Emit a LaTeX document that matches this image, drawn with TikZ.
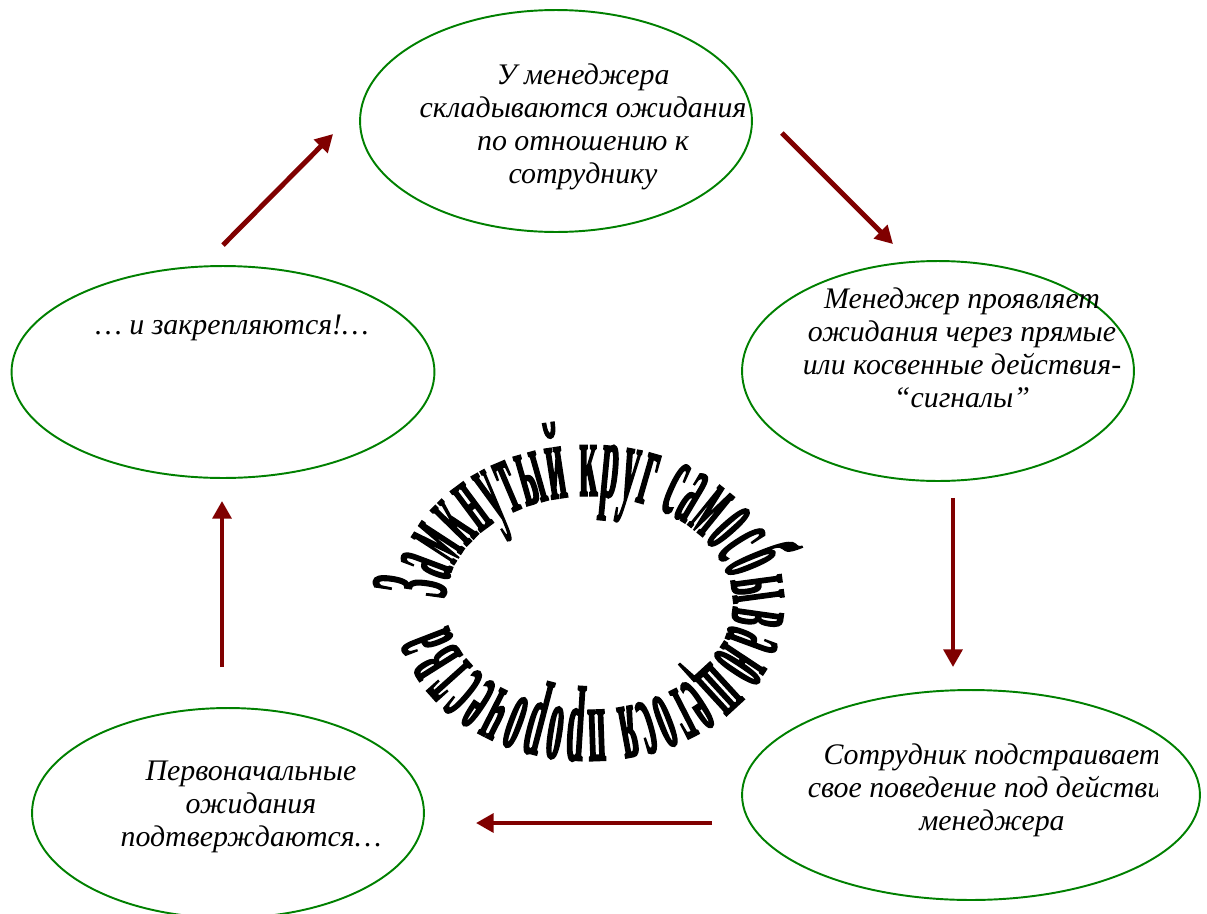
\documentclass[tikz,border=0pt]{standalone}
\usepackage{fontspec}
\setmainfont{Liberation Serif}
\newfontfamily\ringfont[FakeStretch=0.28, FakeBold=1.2]{Liberation Serif}
\usepackage{xcolor}
\usepackage{tikz}
\usetikzlibrary{arrows.meta, positioning, shapes.geometric, calc, decorations.text}
\definecolor{ovalgreen}{RGB}{0,128,0}
\definecolor{arrowred}{RGB}{128,0,0}
\newcommand\ringtext{\ringfont\bfseries\fontsize{63pt}{64pt}\selectfont}

\begin{document}
\begin{tikzpicture}[
  x=0.02cm, y=-0.02cm,
  oval/.style={draw=ovalgreen, line width=1.1pt, ellipse, inner sep=0pt},
  txt/.style={align=center, font=\itshape\fontsize{17pt}{18.8pt}\selectfont},
  arr/.style={-{Triangle[length=10pt, width=10.5pt]}, line width=2.8pt, arrowred}
]
  \useasboundingbox (0,0) rectangle (1207,913);

  \node[oval, minimum width=7.84cm, minimum height=4.44cm] (e1) at (556,121) {};
  \node[oval, minimum width=7.84cm, minimum height=4.40cm] (e2) at (938,371) {};
  \node[oval, minimum width=9.16cm, minimum height=4.20cm] (e3) at (971,795) {};
  \node[oval, minimum width=7.84cm, minimum height=4.20cm] (e4) at (228,813) {};
  \node[oval, minimum width=8.46cm, minimum height=4.24cm] (e5) at (223,372) {};

  \node[txt] (t1) at (583,127) {У менеджера\\складываются ожидания\\по отношению к\\сотруднику};
  \node[txt] (t2) at (962,348) {Менеджер проявляет\\ожидания через прямые\\или косвенные действия-\\“сигналы”};
  \begin{scope}
    \clip (742,690) rectangle (1157,900);
    \node[txt] (t3) at (992,790) {Сотрудник подстраивает\\свое поведение под действия\\менеджера};
  \end{scope}
  \node[txt] (t4) at (251,807) {Первоначальные\\ожидания\\подтверждаются…};
  \node[txt] (t5) at (232,328) {… и закрепляются!…};

  \draw[arr] ($(e5.north)+(0,-20)$) -- ($(e1.west)+(-26,13)$);
  \draw[arr] ($(e1.east)+(29,12)$) -- ($(e2.north)+(-45,-16)$);
  \draw[arr] ($(e2.south)+(15,16)$) -- ($(e3.north)+(-18,-22)$);
  \draw[arr] ($(e3.west)+(-29,28)$) -- ($(e4.east)+(51,10)$);
  \draw[arr] ($(e4.north)+(-6,-40)$) -- ($(e5.south)+(-1,22)$);

  \coordinate (ring) at (589,603);
  \path[decorate, decoration={text along path, text align={fit to path},
        text={|\ringtext|Замкнутый круг самосбывающегося пророчества}}]
    (ring) ++(-178:144 and 107) arc[start angle=-178, end angle=168, x radius=144, y radius=107];
\end{tikzpicture}
\end{document}
